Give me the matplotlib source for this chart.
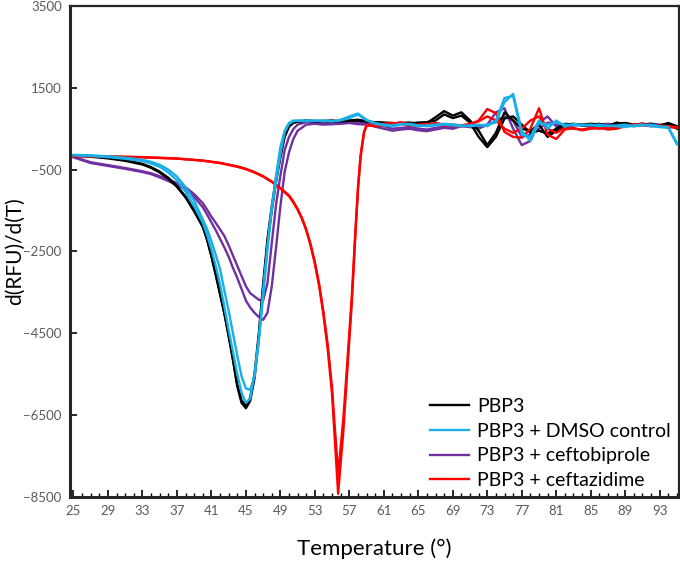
import numpy as np
import matplotlib
matplotlib.use("Agg")
import matplotlib.pyplot as plt
from matplotlib.ticker import MultipleLocator

# temperatures
dip_t = [25, 27, 29, 31, 33, 34, 35, 36, 37, 38, 39, 40, 40.5, 41, 41.5, 42, 42.5,
         43, 43.5, 44, 44.5, 45, 45.5, 46, 46.5, 47, 47.5, 48, 48.5, 49, 49.5, 50,
         50.5, 51, 52, 53, 54, 55, 56, 57, 58, 59]
red_t = [25, 29, 33, 37, 40, 42, 44, 45, 46, 47, 48, 49, 50, 50.5, 51, 51.5, 52,
         52.5, 53, 53.5, 54, 54.5, 55, 55.7, 56.3, 56.8, 57.3, 57.7, 58, 58.3,
         58.7, 59]
tail_t = list(range(60, 96))

# PBP3 (two replicates)
pbp3_a = [-150, -170, -210, -270, -360, -440, -550, -700, -900, -1160, -1500, -1880,
          -2200, -2600, -3050, -3520, -4000, -4550, -5150, -5800, -6200, -6330,
          -6150, -5600, -4600, -3400, -2300, -1500, -800, -200, 300, 550, 640,
          670, 690, 690, 680, 670, 690, 700, 720, 680,
          650, 640, 620, 640, 650, 620, 640, 780, 930, 820, 900, 700, 450, 100,
          400, 900, 700, 500, 450, 600, 300, 450, 600, 620, 580, 600, 620, 560,
          650, 600, 580, 600, 620, 560, 620, 500]
pbp3_b = [-160, -185, -225, -285, -375, -455, -570, -720, -920, -1180, -1520, -1900,
          -2220, -2620, -3070, -3540, -4020, -4560, -5130, -5750, -6150, -6250,
          -6080, -5500, -4500, -3300, -2200, -1400, -700, -120, 350, 580, 650,
          680, 700, 680, 690, 700, 680, 690, 700, 670,
          660, 650, 640, 620, 630, 650, 660, 700, 850, 760, 820, 650, 300, 50,
          300, 750, 800, 600, 400, 450, 380, 500, 620, 600, 600, 620, 600, 580,
          620, 640, 600, 620, 600, 580, 640, 560]

# PBP3 + DMSO control
dmso_a = [-140, -150, -175, -210, -260, -310, -380, -500, -670, -930, -1260, -1720,
          -1950, -2250, -2580, -2930, -3450, -3950, -4500, -5050, -5550, -5850,
          -5880, -5550, -4700, -3600, -2450, -1450, -780, -120, 420, 620, 680,
          700, 680, 700, 690, 680, 720, 800, 870, 720,
          620, 580, 560, 600, 620, 580, 560, 580, 600, 580, 560, 580, 600, 560,
          700, 1250, 1300, 350, 300, 700, 500, 700, 550, 620, 580, 600, 560, 580,
          560, 540, 580, 600, 560, 540, 520, 120]
dmso_b = [-150, -165, -195, -235, -290, -350, -430, -570, -760, -1040, -1390, -1800,
          -2100, -2450, -2850, -3300, -3850, -4420, -4950, -5500, -5950, -6200,
          -6100, -5500, -4600, -3450, -2350, -1450, -650, 50, 450, 640, 700,
          690, 700, 690, 700, 680, 700, 760, 850, 700,
          640, 600, 580, 620, 600, 560, 580, 600, 620, 600, 580, 560, 580, 600,
          650, 1150, 1350, 450, 200, 650, 600, 650, 600, 580, 600, 580, 600, 560,
          580, 600, 560, 580, 600, 560, 540, 150]

# PBP3 + ceftobiprole
ceftob_a = [-180, -320, -390, -460, -540, -590, -660, -740, -830, -930, -1100, -1320,
            -1480, -1650, -1800, -1960, -2120, -2350, -2600, -2850, -3100, -3350,
            -3520, -3600, -3680, -3700, -3280, -2300, -1350, -650, -20, 300, 490,
            600, 660, 650, 620, 640, 660, 680, 650, 620,
            550, 500, 450, 480, 500, 460, 440, 480, 520, 500, 560, 540, 500, 600,
            900, 1000, 500, 100, 200, 650, 800, 550, 500, 580, 600, 540, 560, 600,
            620, 580, 560, 600, 620, 600, 580, 560]
ceftob_b = [-200, -340, -410, -480, -560, -610, -690, -780, -880, -990, -1170, -1420,
            -1600, -1790, -1980, -2190, -2400, -2630, -2900, -3150, -3420, -3700,
            -3870, -4000, -4100, -4170, -4000, -3350, -2400, -1400, -550, -80, 250,
            450, 600, 620, 600, 610, 620, 640, 610, 600,
            600, 560, 500, 520, 540, 500, 480, 520, 560, 540, 580, 560, 540, 580,
            700, 800, 700, 300, 350, 500, 650, 600, 550, 600, 580, 560, 600, 620,
            580, 560, 600, 620, 580, 560, 600, 540]

# PBP3 + ceftazidime
ceftaz_a = [-170, -180, -200, -230, -280, -340, -430, -490, -570, -670, -800, -960,
            -1150, -1300, -1480, -1700, -1980, -2350, -2800, -3350, -4050, -4900,
            -6000, -8420, -6900, -5300, -3700, -2100, -1000, -200, 400, 580,
            560, 580, 620, 660, 600, 560, 600, 640, 600, 570, 560, 600, 700, 980,
            880, 420, 300, 280, 500, 1000, 350, 250, 480, 520, 460, 500, 530, 480,
            500, 560, 600, 620, 580, 560, 540, 520]
ceftaz_b = [-160, -175, -195, -230, -280, -335, -420, -480, -560, -660, -790, -950,
            -1130, -1280, -1460, -1680, -1960, -2320, -2760, -3300, -3980, -4800,
            -5850, -7950, -6600, -5100, -3550, -2000, -950, -150, 420, 590,
            600, 620, 640, 620, 580, 600, 620, 600, 580, 600, 580, 620, 680, 800,
            700, 500, 400, 500, 700, 800, 500, 400, 520, 500, 480, 520, 500, 520,
            540, 580, 600, 580, 560, 580, 560, 540]

labels = ["PBP3", "PBP3 + DMSO control", "PBP3 + ceftobiprole", "PBP3 + ceftazidime"]
colors = ["#000000", "#1AAEE6", "#7030A0", "#FF0000"]

plt.rcParams["font.family"] = ["Lato", "DejaVu Sans"]

fig = plt.figure(figsize=(6.8, 5.71), dpi=100)
ax = fig.add_axes([0.103, 0.1296, 0.895, 0.86])

t_main = dip_t + tail_t
t_red = red_t + tail_t
series = [(t_main, pbp3_a, pbp3_b), (t_main, dmso_a, dmso_b),
          (t_main, ceftob_a, ceftob_b), (t_red, ceftaz_a, ceftaz_b)]
zorders = [3, 5, 2, 4]
handles = []
for (t, a, b), c, lab, z in zip(series, colors, labels, zorders):
    h, = ax.plot(t, a, color=c, lw=1.7, zorder=z, label=lab)
    ax.plot(t, b, color=c, lw=1.7, zorder=z)
    handles.append(h)

ax.set_xlim(24.6, 95.2)
ax.set_ylim(-8500, 3500)
ax.set_xticks(np.arange(25, 95, 4))
ax.xaxis.set_minor_locator(MultipleLocator(1))
ax.set_yticks(np.arange(-8500, 3501, 2000))
ax.tick_params(axis="both", direction="in", colors="#595959", labelsize=9.5,
               width=1.2, length=5)
ax.tick_params(axis="x", which="minor", direction="in", length=3, width=1,
               color="#000000")
ax.tick_params(axis="x", which="major", color="#000000", pad=6)
ax.tick_params(axis="y", color="#000000", pad=6)
for s in ax.spines.values():
    s.set_color("#262626")
    s.set_linewidth(1.6)
ax.spines["left"].set_linewidth(2.2)
ax.spines["bottom"].set_linewidth(2.2)

ax.set_xlabel("Temperature (°)", fontsize=16, labelpad=15)
ax.set_ylabel("d(RFU)/d(T)", fontsize=15)
ax.yaxis.set_label_coords(-0.074, 0.5)

ax.legend(handles=handles, loc="lower right", frameon=False, fontsize=14,
          handlelength=2.0, handletextpad=0.4, labelspacing=0.4,
          borderaxespad=0.0, bbox_to_anchor=(1.0, 0.0))

fig.savefig("out.png", dpi=100)
